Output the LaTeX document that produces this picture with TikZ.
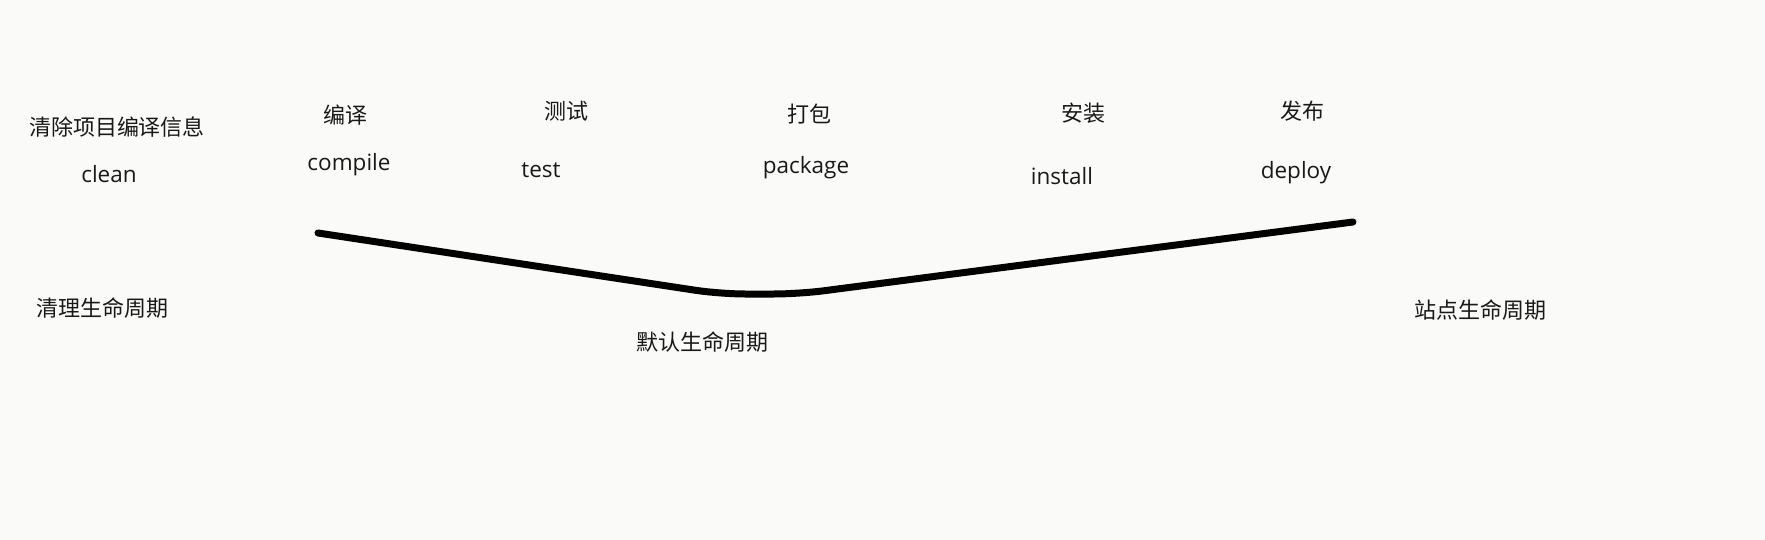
\documentclass[tikz,border=0pt]{standalone}
\usepackage{fontspec}
\usepackage{xcolor}
\usetikzlibrary{positioning}
\setmainfont{Open Sans}
\newfontfamily\cjk{Noto Sans CJK SC}
\definecolor{bgcolor}{RGB}{250,251,248}
\definecolor{textcolor}{RGB}{25,25,25}

\begin{document}
\begin{tikzpicture}[
    x=1pt, y=-1pt,
    cn/.style={font=\cjk\fontsize{22}{26}\selectfont, text=textcolor, inner sep=0pt},
    en/.style={font=\fontsize{22.5}{26}\selectfont, text=textcolor, inner sep=0pt},
    curve/.style={line width=7pt, line join=round, line cap=round, rounded corners=25pt}
]

% Background
\fill[bgcolor] (0,0) rectangle (1765,540);
\useasboundingbox (0,0) rectangle (1765,540);

% Clean lifecycle
\node[cn] (cleaninfo) at (117,127) {清除项目编译信息};
\node[en] (clean) at (109,174) {clean};
\node[cn] (cleancycle) at (102,308) {清理生命周期};

% Default lifecycle phases
\node[cn] (compilecn) at (345,115) {编译};
\node[en] (compile) at (349,165) {compile};
\node[cn] (testcn) at (566,111) {测试};
\node[en] (test) at (541,170) {test};
\node[cn] (packagecn) at (809,114) {打包};
\node[en] (package) at (806,168) {package};
\node[cn] (installcn) at (1083,113) {安装};
\node[en] (install) at (1062,176) {install};
\node[cn] (deploycn) at (1302,111) {发布};
\node[en] (deploy) at (1296,173) {deploy};

% Default lifecycle curve
\coordinate (start) at (318,233);
\coordinate (low1) at (720,294);
\coordinate (low2) at (799,294);
\coordinate (end) at (1353,222);
\draw[curve] (start) -- (low1) -- (low2) -- (end);
\node[cn] (defaultcycle) at (702,342) {默认生命周期};

% Site lifecycle
\node[cn] (sitecycle) at (1480,310) {站点生命周期};

\end{tikzpicture}
\end{document}
